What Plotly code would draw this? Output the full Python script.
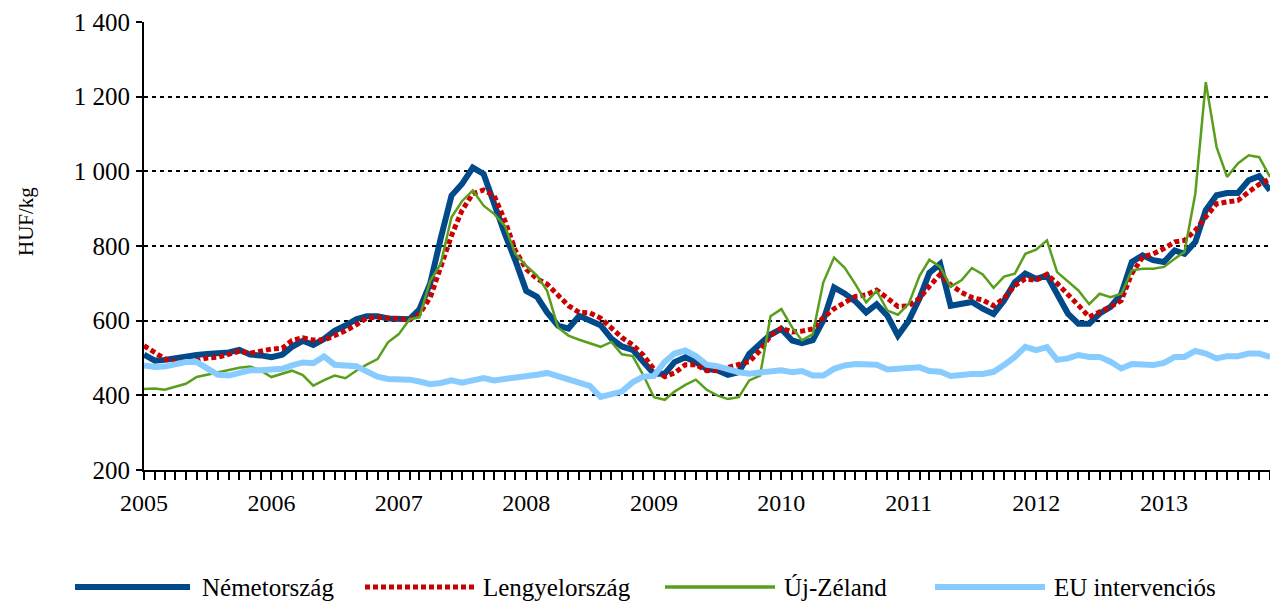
import pandas as pd
import plotly.graph_objects as go

months = pd.date_range("2005-01-01", periods=107, freq="MS").strftime("%Y-%m-%d").tolist()

nemetorszag = [509, 493, 495, 500, 507, 508, 511, 513, 515, 522, 509, 507, 502, 509, 530,
               546, 535, 551, 573, 587, 604, 612, 612, 606, 603, 604, 630, 700, 820, 935,
               966, 1010, 993, 908, 832, 761, 680, 664, 622, 587, 579, 613, 602, 588, 552,
               531, 522, 489, 458, 458, 489, 502, 489, 471, 467, 455, 462, 511, 536, 563,
               578, 547, 540, 548, 600, 689, 673, 652, 622, 644, 613, 560, 600, 660, 728,
               752, 640, 645, 650, 632, 618, 654, 703, 726, 712, 721, 672, 619, 592, 592,
               619, 637, 672, 757, 775, 762, 757, 788, 779, 811, 896, 936, 942, 942, 976,
               987, 949]
lengyelorszag = [533, 516, 498, 489, 489, 493, 500, 502, 509, 518, 513, 520, 524, 526, 547,
                 554, 548, 548, 560, 573, 589, 607, 609, 607, 603, 603, 618, 662, 743, 828,
                 895, 940, 950, 935, 868, 788, 738, 712, 698, 667, 640, 622, 621, 607, 580,
                 555, 535, 508, 470, 450, 460, 482, 482, 466, 467, 474, 481, 490, 520, 560,
                 580, 570, 572, 578, 608, 632, 648, 665, 669, 682, 660, 638, 640, 660, 692,
                 724, 696, 676, 662, 655, 640, 660, 694, 712, 708, 724, 700, 672, 641, 610,
                 623, 637, 654, 726, 770, 779, 793, 811, 815, 842, 878, 913, 918, 922, 945,
                 965, 980]
uj_zeland = [417, 418, 415, 424, 431, 449, 455, 462, 468, 474, 477, 467, 449, 458, 466,
             454, 426, 441, 453, 446, 466, 482, 497, 542, 564, 604, 609, 707, 752, 877,
             920, 949, 908, 886, 854, 779, 747, 721, 680, 582, 560, 549, 540, 530, 543,
             510, 505, 455, 395, 388, 410, 428, 442, 415, 400, 390, 395, 440, 453, 612,
             631, 582, 547, 564, 702, 769, 742, 698, 649, 680, 627, 616, 645, 720, 763,
             744, 691, 708, 741, 724, 688, 718, 726, 779, 790, 815, 730, 704, 681, 644,
             672, 663, 672, 735, 739, 739, 744, 766, 784, 940, 1239, 1065, 985, 1021, 1043,
             1038, 985]
eu_intervencios = [480, 476, 477, 483, 489, 489, 471, 455, 453, 460, 467, 467, 468, 471, 480,
                   488, 486, 504, 482, 478, 478, 464, 450, 444, 444, 442, 437, 430, 433, 440,
                   434, 440, 446, 440, 444, 445, 448, 455, 460, 452, 443, 433, 425, 396, 403,
                   410, 435, 450, 452, 490, 512, 520, 505, 482, 478, 468, 462, 458, 462, 465,
                   467, 462, 465, 453, 453, 471, 480, 484, 482, 482, 469, 472, 475, 475, 465,
                   463, 452, 456, 457, 457, 463, 481, 503, 530, 521, 529, 495, 499, 508, 503,
                   503, 490, 472, 484, 481, 481, 487, 503, 503, 519, 512, 499, 505, 505, 512,
                   512, 503]

series_names = ["Németország", "Lengyelország", "Új-Zéland", "EU intervenciós"]
y_tickvals = [200, 400, 600, 800, 1000, 1200, 1400]
y_ticktext = ["200", "400", "600", "800", "1 000", "1 200", "1 400"]
y_title = "HUF/kg"

FONT = "Times New Roman, Liberation Serif, serif"
C_BLUE = "#004A8A"
C_RED = "#CC0000"
C_GREEN = "#5A9E1E"
C_LBLUE = "#88CCFF"

styles = [
    dict(color=C_BLUE, width=6, dash="solid"),
    dict(color=C_RED, width=5, dash="5px,3px"),
    dict(color=C_GREEN, width=2.5, dash="solid"),
    dict(color=C_LBLUE, width=6, dash="solid"),
]
data = [nemetorszag, lengyelorszag, uj_zeland, eu_intervencios]

W, H = 1270, 601
# plot area in page pixels
L, R, T, B = 144, 1270, 22, 470

def xp(page_x):
    return (page_x - L) / (R - L)

def yp(page_y):
    return (B - page_y) / (B - T)

fig = go.Figure()
for name, vals, st in zip(series_names, data, styles):
    fig.add_trace(go.Scatter(x=months, y=vals, mode="lines", name=name, line=st,
                             showlegend=False))

# custom legend with long line samples as in the original
legend_items = [(75, 190, 200), (365, 475, 481), (665, 775, 782), (935, 1045, 1052)]
ly = yp(587)
for (x0, x1, xt), name, st in zip(legend_items, series_names, styles):
    fig.add_shape(type="line", xref="paper", yref="paper", x0=xp(x0), x1=xp(x1), y0=ly, y1=ly,
                  line=dict(color=st["color"], width=st["width"] + (1 if st["width"] < 3 else 0),
                            dash=st["dash"]))
    fig.add_annotation(xref="paper", yref="paper", x=xp(xt), y=ly, text=name, showarrow=False,
                       xanchor="left", yanchor="middle",
                       font=dict(family=FONT, size=25, color="black"))

fig.add_annotation(xref="paper", yref="paper", x=xp(26), y=yp(222), text=y_title,
                   showarrow=False, textangle=-90, xanchor="center", yanchor="middle",
                   font=dict(family=FONT, size=21, color="black"))

fig.update_layout(
    width=W, height=H,
    margin=dict(l=L, r=W - R, t=T, b=H - B, pad=0),
    paper_bgcolor="white", plot_bgcolor="white",
    font=dict(family=FONT, size=24, color="black"),
)
fig.update_xaxes(
    type="date", range=["2005-01-01", "2013-11-01"],
    dtick="M12", tick0="2005-01-01", tickformat="%Y",
    ticks="outside", ticklen=8, tickwidth=1.5, tickcolor="black",
    minor=dict(dtick="M1", ticks="outside", ticklen=8, tickwidth=1.5, tickcolor="black",
               showgrid=False),
    showline=True, linecolor="black", linewidth=2,
    showgrid=False, zeroline=False,
    tickfont=dict(family=FONT, size=24, color="black"),
    ticklabelstandoff=2,
)
fig.update_yaxes(
    range=[200, 1400], tickvals=y_tickvals, ticktext=y_ticktext,
    ticks="outside", ticklen=6, tickwidth=1.5, tickcolor="black",
    showline=True, linecolor="black", linewidth=2,
    showgrid=True, gridcolor="black", gridwidth=1.5, griddash="4px,4px",
    zeroline=False,
    tickfont=dict(family=FONT, size=25, color="black"),
    ticklabelstandoff=1,
)

fig.write_html(
    "out.html",
    config={"responsive": False, "displayModeBar": False},
    post_script="document.body.style.margin='0';document.body.style.overflow='hidden';",
)
